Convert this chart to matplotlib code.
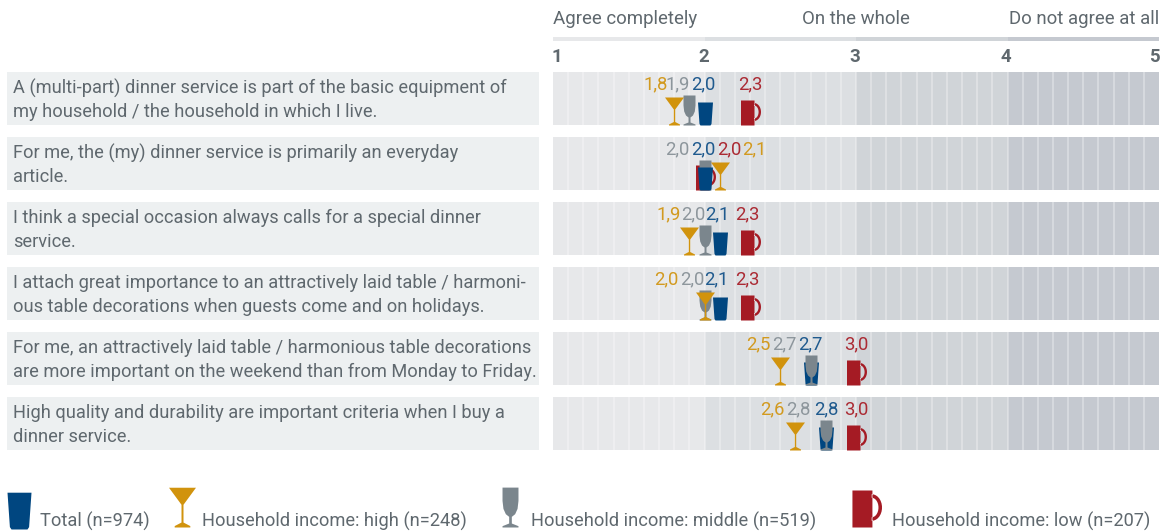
import numpy as np
import matplotlib
matplotlib.use("Agg")
import matplotlib.pyplot as plt
from matplotlib.path import Path

plt.rcParams['font.family'] = ['Roboto', 'DejaVu Sans']

W, H = 1163, 532

statements = [
    "A (multi-part) dinner service is part of the basic equipment of\nmy household / the household in which I live.",
    "For me, the (my) dinner service is primarily an everyday\narticle.",
    "I think a special occasion always calls for a special dinner\nservice.",
    "I attach great importance to an attractively laid table / harmoni-\nous table decorations when guests come and on holidays.",
    "For me, an attractively laid table / harmonious table decorations\nare more important on the weekend than from Monday to Friday.",
    "High quality and durability are important criteria when I buy a\ndinner service.",
]
total = [2.0, 2.0, 2.1, 2.1, 2.7, 2.8]
high = [1.8, 2.1, 1.9, 2.0, 2.5, 2.6]
middle = [1.9, 2.0, 2.0, 2.0, 2.7, 2.8]
low = [2.3, 2.0, 2.3, 2.3, 3.0, 3.0]
scale_ticks = [1, 2, 3, 4, 5]
scale_names = ["Agree completely", "On the whole", "Do not agree at all"]
legend_names = ["Total (n=974)", "Household income: high (n=248)",
                "Household income: middle (n=519)", "Household income: low (n=207)"]

# layout in pixels
row_tops = [72, 137, 202, 267, 332, 397]
row_h = 53
x_left, x_right = 553, 1159
# where the number labels sit: high, middle, total, low
label_x = [
    [656, 678, 703, 750],
    [754, 677, 703, 729],
    [669, 693, 717, 747],
    [666, 692, 716, 747],
    [758, 784, 810, 856],
    [772, 798, 826, 856],
]
font_size = 13.15

band_cols = ['#e7e8ea', '#dcdfe2', '#d0d4d8', '#c5c9d0']
text_col = '#5f686e'
glyph_cols = {'total': '#004680', 'high': '#d1930d', 'middle': '#7b868d', 'low': '#a51b24'}
label_cols = {'total': '#1f5a8e', 'high': '#d29a20', 'middle': '#8d969c', 'low': '#ab2a33'}


def poly(pts):
    return Path(np.array(pts + [pts[0]], float), closed=True)


def make_mug():
    a = np.linspace(np.pi / 2, -np.pi / 2, 16)
    outer = np.column_stack([3.5 + 7 * np.cos(a), 13.5 + 9 * np.sin(a)])
    inner = np.column_stack([3.5 + 4.6 * np.cos(a[::-1]), 13.5 + 6.6 * np.sin(a[::-1])])
    handle = [list(p) for p in outer] + [list(p) for p in inner]
    body = [[-9.5, 0], [4, 0], [4, 25], [-9.5, 25]]
    body_v = np.array(body + [body[0]], float)
    hv = np.array(handle + [handle[0]], float)
    verts = np.vstack([body_v, hv])
    codes = ([Path.MOVETO] + [Path.LINETO] * (len(body_v) - 2) + [Path.CLOSEPOLY]
             + [Path.MOVETO] + [Path.LINETO] * (len(hv) - 2) + [Path.CLOSEPOLY])
    return Path(verts, codes)


glyphs = {
    'total': poly([[-5, 0], [5, 0], [6, 1.5], [7.5, 23], [-7.5, 23], [-6, 1.5]]),
    'high': poly([[-5.5, 0], [5.5, 0], [5.5, 1], [0.7, 3.5], [0.7, 16], [9.5, 28], [-9.5, 28],
                  [-0.7, 16], [-0.7, 3.5], [-5.5, 1]]),
    'middle': poly([[-6, 0], [6, 0], [6, 1], [1, 3], [1, 8], [3.5, 10], [5.3, 14], [6, 20], [6, 30],
                    [-6, 30], [-6, 20], [-5.3, 14], [-3.5, 10], [-1, 8], [-1, 3], [-6, 1]]),
    'low': make_mug(),
}


def draw_glyph(ax, x, y, name, scale=1.0, zorder=3):
    # marker paths get normalised by their largest coordinate, so size from that
    path = glyphs[name]
    ms = 2 * np.max(np.abs(path.vertices)) * scale * 0.72
    ax.plot([x], [y], marker=path, ms=ms, mfc=glyph_cols[name], mew=0, ls='none',
            clip_on=False, zorder=zorder)


def stripes(ax):
    ax.set_xlim(1, 5)
    ax.set_ylim(0, 1)
    ax.axis('off')
    for i in range(4):
        ax.axvspan(i + 1, i + 2, color=band_cols[i], lw=0, zorder=0)


fig = plt.figure(figsize=(W / 100, H / 100), dpi=100)
bg = fig.add_axes([0, 0, 1, 1])
bg.set_xlim(0, W)
bg.set_ylim(H, 0)
bg.axis('off')

# header
top_ax = fig.add_axes([x_left / W, 1 - 41 / H, (x_right - x_left) / W, 4 / H])
stripes(top_ax)
bg.text(553, 19, scale_names[0], color=text_col, fontsize=13.4, va='center', ha='left')
bg.text(856, 19, scale_names[1], color=text_col, fontsize=13.4, va='center', ha='center')
bg.text(1159, 19, scale_names[2], color=text_col, fontsize=13.4, va='center', ha='right')
for t, tx in zip(scale_ticks, [557, 704, 855, 1006, 1154]):
    bg.text(tx, 57, str(t), color=text_col, fontsize=13.4, fontweight='bold', va='center', ha='center')

for i, text in enumerate(statements):
    top = row_tops[i]
    bg.fill_between([7, 539], top, top + row_h, color='#edf0f1', lw=0)
    bg.text(13, top + 28, text, color=text_col, fontsize=font_size, va='center', ha='left', linespacing=1.4)

    ax = fig.add_axes([x_left / W, 1 - (top + row_h) / H, (x_right - x_left) / W, row_h / H])
    stripes(ax)
    ax.patch.set_alpha(0)
    ax.vlines(np.arange(1.1, 5, 0.1), 0, 1, color='white', alpha=0.3, lw=1.44, zorder=1)

    # overlap order differs in the two lower rows
    if i >= 4:
        order = [('low', low), ('total', total), ('middle', middle), ('high', high)]
    else:
        order = [('low', low), ('middle', middle), ('total', total), ('high', high)]
    for z, (name, vals) in enumerate(order):
        draw_glyph(ax, vals[i], 0, name, zorder=3 + z)

    for name, vals, lx in zip(['high', 'middle', 'total', 'low'], [high, middle, total, low], label_x[i]):
        bg.text(lx, top + 12, f"{vals[i]:.1f}".replace('.', ','),
                color=label_cols[name], fontsize=13.3, ha='center', va='center', zorder=20)

bg.set_zorder(5)
bg.patch.set_alpha(0)

# legend
leg_x = [(19, 529, 'total', 1.6), (182, 527, 'high', 1.42), (510, 527, 'middle', 1.33), (866, 527, 'low', 1.48)]
leg_text_x = [40, 202, 531, 892]
for (gx, gy, name, sc), tx, label in zip(leg_x, leg_text_x, legend_names):
    draw_glyph(bg, gx, gy, name, scale=sc)
    bg.text(tx, 521, label, color=text_col, fontsize=font_size, va='center', ha='left')

fig.savefig("out.png", dpi=100)
